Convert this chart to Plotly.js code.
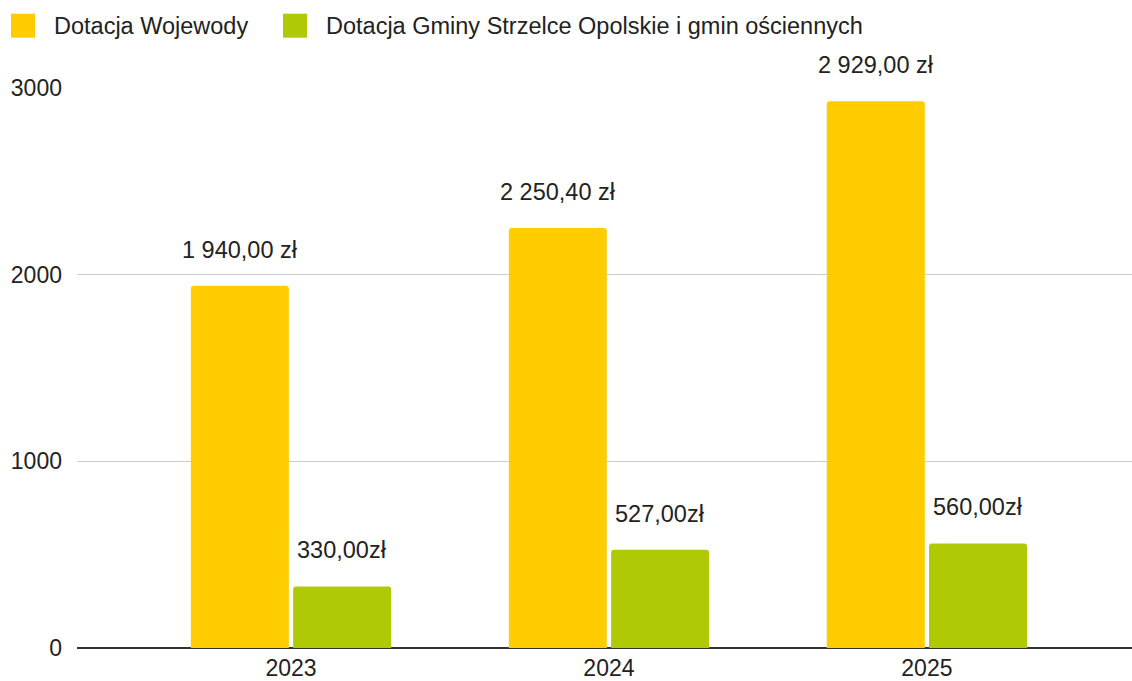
<!DOCTYPE html>
<html>
<head>
<meta charset="utf-8">
<script src="https://cdn.plot.ly/plotly-3.0.1.min.js"></script>
<style>
html,body{margin:0;padding:0;background:#fff;}
#chart{width:1132px;height:681px;}
</style>
</head>
<body>
<div id="chart"></div>
<script>
const years = ['2023', '2024', '2025'];
const seriesNames = ['Dotacja Wojewody', 'Dotacja Gminy Strzelce Opolskie i gmin ościennych'];
const wojewodaValues = [1940.00, 2250.40, 2929.00];
const gminaValues = [330.00, 527.00, 560.00];
const wojewodaLabels = ['1 940,00 zł', '2 250,40 zł', '2 929,00 zł'];
const gminaLabels = ['330,00zł', '527,00zł', '560,00zł'];
const yTicks = [0, 1000, 2000, 3000];
const colors = ['#FFCC00', '#AFCA05'];

const FONT = 'Liberation Sans, Arial, Helvetica, sans-serif';
const TXT = '#222222';

const traces = [
  {type: 'bar', name: seriesNames[0], x: years, y: wojewodaValues,
   marker: {color: colors[0], cornerradius: 3}, hoverinfo: 'none'},
  {type: 'bar', name: seriesNames[1], x: years, y: gminaValues,
   marker: {color: colors[1], cornerradius: 3}, hoverinfo: 'none'}
];

const annotations = [];
years.forEach((yr, i) => {
  // category axis: position by category index
  annotations.push({x: i, y: wojewodaValues[i], xref: 'x', yref: 'y', text: wojewodaLabels[i],
    showarrow: false, xshift: -51, yshift: 36, yanchor: 'middle', xanchor: 'center',
    font: {family: FONT, size: 23.5, color: TXT}});
  annotations.push({x: i, y: gminaValues[i], xref: 'x', yref: 'y', text: gminaLabels[i],
    showarrow: false, xshift: 51, yshift: 36, yanchor: 'middle', xanchor: 'center',
    font: {family: FONT, size: 23.5, color: TXT}});
});

// custom legend (larger squares than Plotly's built-in legend)
const legendItems = [
  {sq: 11, txt: 52},
  {sq: 283, txt: 324}
];
const shapes = [];
legendItems.forEach((it, i) => {
  shapes.push({type: 'rect', xref: 'paper', yref: 'paper', xsizemode: 'pixel', ysizemode: 'pixel',
    xanchor: 0, yanchor: 1, x0: it.sq - 77, x1: it.sq + 24 - 77, y0: 88.3 - 38, y1: 88.3 - 14,
    fillcolor: colors[i], line: {width: 0}});
  annotations.push({xref: 'paper', yref: 'paper', x: 0, y: 1, xshift: it.txt - 77, yshift: 88.3 - 26,
    xanchor: 'left', yanchor: 'middle', text: seriesNames[i], showarrow: false,
    font: {family: FONT, size: 23.5, color: TXT}});
});

const layout = {
  width: 1132, height: 681,
  margin: {l: 77, r: 0, t: 88, b: 33, pad: 0},
  paper_bgcolor: '#ffffff', plot_bgcolor: '#ffffff',
  font: {family: FONT, size: 23, color: TXT},
  showlegend: false,
  barmode: 'group',
  bargap: 0.3566,
  bargroupgap: 0.042,
  xaxis: {
    type: 'category',
    range: [-0.673, 2.645],
    showgrid: false, zeroline: false, showline: false,
    ticks: '', ticklabelstandoff: 4,
    tickfont: {family: FONT, size: 23, color: TXT},
    fixedrange: true
  },
  yaxis: {
    range: [0, 3000],
    tickvals: yTicks,
    ticktext: yTicks.map(v => String(v)),
    showgrid: true, gridcolor: '#cccccc', gridwidth: 1.5,
    zeroline: true, zerolinecolor: '#333333', zerolinewidth: 1.5,
    showline: false, ticks: '', ticklabelstandoff: 14,
    tickfont: {family: FONT, size: 23, color: TXT},
    fixedrange: true
  },
  annotations: annotations,
  shapes: shapes
};

Plotly.newPlot('chart', traces, layout, {displayModeBar: false, staticPlot: true});
</script>
</body>
</html>
